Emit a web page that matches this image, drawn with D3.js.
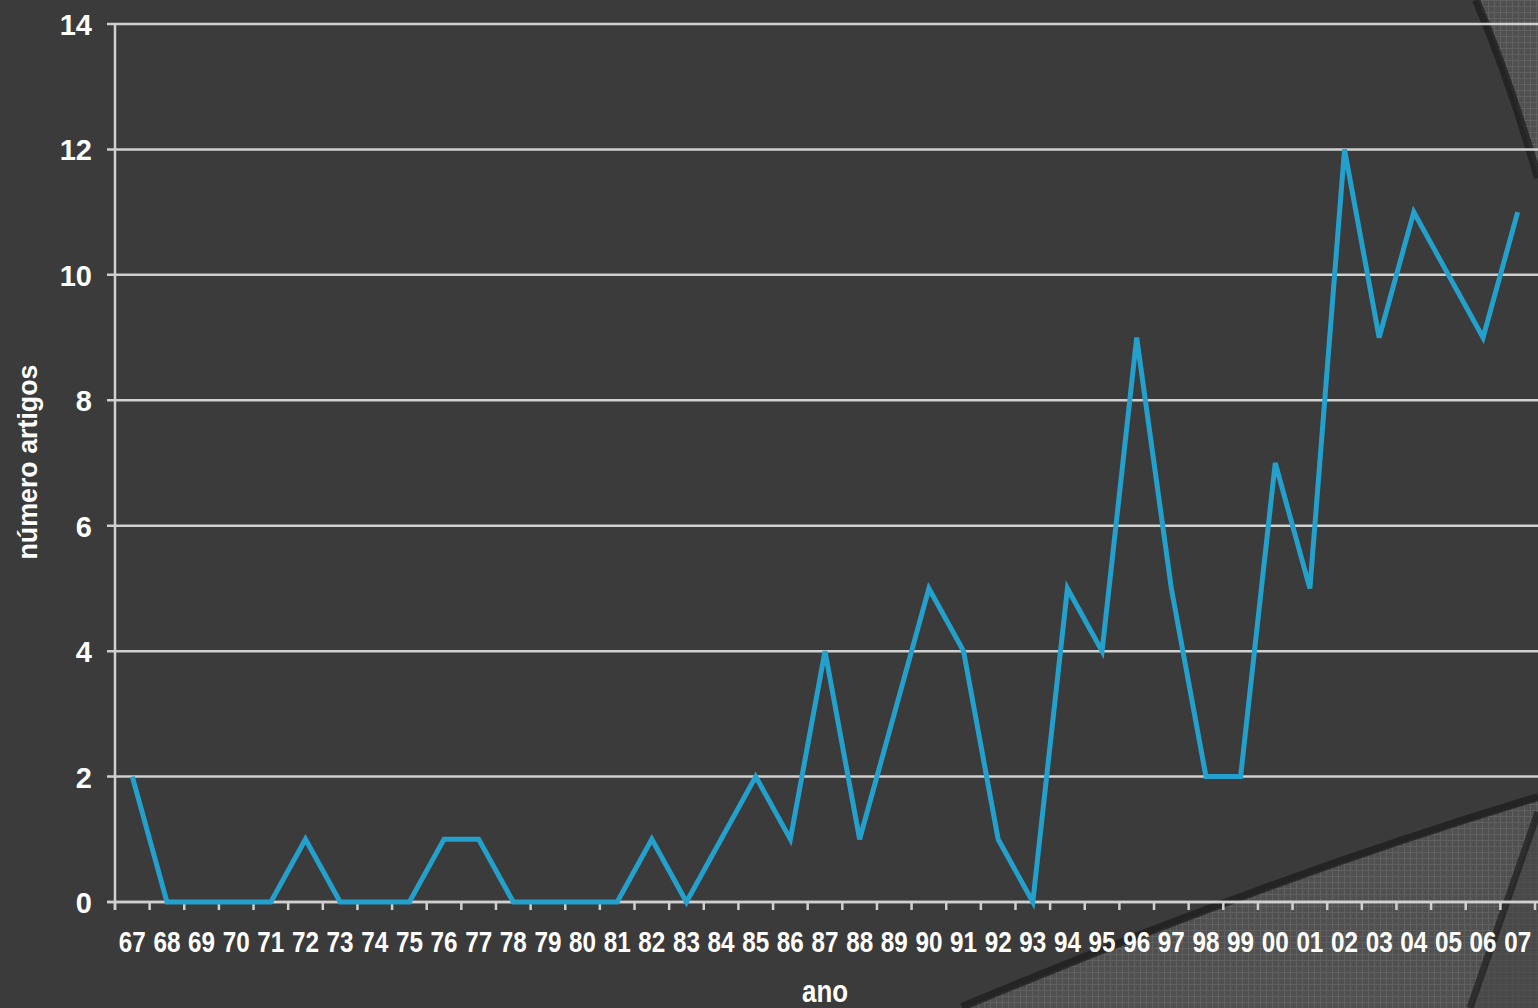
<!DOCTYPE html>
<html>
<head>
<meta charset="utf-8">
<script src="https://cdn.jsdelivr.net/npm/d3@7"></script>
<style>
  html, body { margin: 0; padding: 0; background: #3b3b3b; overflow: hidden; }
  text { font-family: "Liberation Sans", Arial, sans-serif; font-weight: bold; fill: #fff; }
</style>
</head>
<body>
<script>
// Chart data
const years = ['67','68','69','70','71','72','73','74','75','76','77','78','79','80','81','82','83','84','85','86','87','88','89','90','91','92','93','94','95','96','97','98','99','00','01','02','03','04','05','06','07'];
const articles = [2,0,0,0,0,1,0,0,0,1,1,0,0,0,0,1,0,1,2,1,4,1,3,5,4,1,0,5,4,9,5,2,2,7,5,12,9,11,10,9,11];
const yTicks = [0,2,4,6,8,10,12,14];

const width = 1538, height = 1008;
const margin = { top: 24, right: 3, bottom: 106, left: 115 };

const svg = d3.select('body').append('svg')
  .attr('width', width)
  .attr('height', height);

// textured pattern for the slide decoration
const defs = svg.append('defs');
const pat = defs.append('pattern')
  .attr('id', 'tex')
  .attr('width', 6).attr('height', 6)
  .attr('patternUnits', 'userSpaceOnUse');
pat.append('rect').attr('width', 6).attr('height', 6).attr('fill', '#505050');
pat.append('path').attr('d', 'M0,0.5H6M0.5,0V6').attr('stroke', '#606060').attr('stroke-width', 1);

// slide background decoration (right side)
const deco = svg.append('g');
deco.append('path')
  .attr('d', 'M1478,0 Q1512,80 1538,178 L1538,0 Z')
  .attr('fill', 'url(#tex)');
deco.append('path')
  .attr('d', 'M1476,0 Q1510,80 1538,178')
  .attr('fill', 'none').attr('stroke', '#1e1e1e').attr('stroke-opacity', 0.75).attr('stroke-width', 8);

deco.append('path')
  .attr('d', 'M965,1008 Q1270,880 1538,800 L1538,1008 Z')
  .attr('fill', 'url(#tex)');
deco.append('path')
  .attr('d', 'M1538,812 L1472,1008 L1538,1008 Z')
  .attr('fill', '#454545').attr('opacity', 0.6);
deco.append('path')
  .attr('d', 'M962,1007 Q1269,878 1538,797')
  .attr('fill', 'none').attr('stroke', '#1e1e1e').attr('stroke-opacity', 0.75).attr('stroke-width', 8);
deco.append('path')
  .attr('d', 'M1538,812 L1470,1008')
  .attr('fill', 'none').attr('stroke', '#1e1e1e').attr('stroke-opacity', 0.7).attr('stroke-width', 7);

const plotW = 1535 - margin.left;
const plotH = 902 - margin.top;

const g = svg.append('g')
  .attr('transform', `translate(${margin.left},${margin.top})`);

const x = d3.scaleBand().domain(years).range([0, plotW]).padding(0);
const y = d3.scaleLinear().domain([0, 14]).range([plotH, 0]);

// horizontal gridlines
g.append('g')
  .selectAll('line')
  .data(yTicks)
  .enter()
  .append('line')
  .attr('x1', -8)
  .attr('x2', width - margin.left)
  .attr('y1', d => y(d))
  .attr('y2', d => y(d))
  .attr('stroke', '#d0d0d0')
  .attr('stroke-width', 2.5);

// y axis
const yAxis = g.append('g')
  .call(d3.axisLeft(y).tickValues(yTicks).tickSize(0).tickPadding(23));
yAxis.select('.domain').remove();
yAxis.append('line')
  .attr('x1', 0).attr('x2', 0)
  .attr('y1', 0).attr('y2', plotH + 8)
  .attr('stroke', '#d0d0d0').attr('stroke-width', 2.5);
yAxis.selectAll('text')
  .style('font-size', '29px')
  .attr('dy', '0.36em')
  .attr('fill', '#fff');

// x axis
const xAxis = g.append('g')
  .attr('transform', `translate(0,${plotH})`)
  .call(d3.axisBottom(x).tickSize(0).tickPadding(0));
xAxis.select('.domain').remove();
xAxis.append('line')
  .attr('x1', -8).attr('x2', width - margin.left)
  .attr('stroke', '#d0d0d0').attr('stroke-width', 2.5);
xAxis.selectAll('.tickmark')
  .data(d3.range(years.length + 1))
  .enter()
  .append('line')
  .attr('class', 'tickmark')
  .attr('x1', i => i * x.step())
  .attr('x2', i => i * x.step())
  .attr('y1', 0).attr('y2', 8)
  .attr('stroke', '#d0d0d0').attr('stroke-width', 2.5);
xAxis.selectAll('.tick text')
  .style('font-size', '29px')
  .attr('y', 50)
  .attr('dy', 0)
  .attr('textLength', 27)
  .attr('lengthAdjust', 'spacingAndGlyphs')
  .attr('fill', '#fff');

// data line
const line = d3.line()
  .x((d, i) => x(years[i]) + x.bandwidth() / 2)
  .y(d => y(d));

g.append('path')
  .datum(articles)
  .attr('d', line)
  .attr('fill', 'none')
  .attr('stroke', '#23a0cc')
  .attr('stroke-width', 5)
  .attr('stroke-linejoin', 'miter');

// axis titles
svg.append('text')
  .attr('x', 825)
  .attr('y', 1002)
  .attr('text-anchor', 'middle')
  .attr('textLength', 46)
  .attr('lengthAdjust', 'spacingAndGlyphs')
  .style('font-size', '31px')
  .text('ano');

svg.append('text')
  .attr('transform', 'translate(37,462) rotate(-90)')
  .attr('text-anchor', 'middle')
  .attr('textLength', 195)
  .attr('lengthAdjust', 'spacingAndGlyphs')
  .style('font-size', '28px')
  .text('número artigos');
</script>
</body>
</html>
